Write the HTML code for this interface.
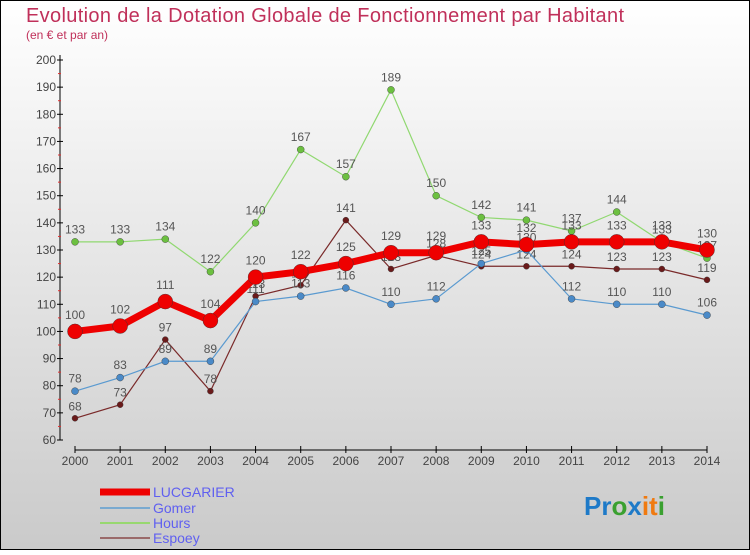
<!DOCTYPE html>
<html><head><meta charset="utf-8"><style>
body{margin:0;}
#c{width:750px;height:550px;position:relative;}
svg text{font-family:"Liberation Sans",sans-serif;}
</style></head><body>
<div id="c">
<svg id="s" width="750" height="550" xmlns="http://www.w3.org/2000/svg">
<defs><linearGradient id="bg" x1="0" y1="0" x2="0" y2="1"><stop offset="0" stop-color="#ffffff"/><stop offset="1" stop-color="#cacaca"/></linearGradient></defs>
<rect x="0.5" y="0.5" width="749" height="549" fill="url(#bg)" stroke="#000"/>
<text x="26" y="22" font-size="20" fill="#c0305a" textLength="598">Evolution de la Dotation Globale de Fonctionnement par Habitant</text>
<text x="26" y="39" font-size="12" fill="#c0305a">(en € et par an)</text>
<g id="axes"></g>
<g id="series"></g>
<g id="legend"></g>
<text x="584" y="515" font-size="26" font-weight="bold"><tspan fill="#1e7ac8">Pr</tspan><tspan fill="#3aa030">o</tspan><tspan fill="#1e7ac8">x</tspan><tspan fill="#f07a10">it</tspan><tspan fill="#3aa030">i</tspan></text>
</svg>
</div>
<script>
const years=[2000,2001,2002,2003,2004,2005,2006,2007,2008,2009,2010,2011,2012,2013,2014];
const lucgarier=[100,102,111,104,120,122,125,129,129,133,132,133,133,133,130];
const gomer=[78,83,89,89,111,113,116,110,112,125,130,112,110,110,106];
const hours=[133,133,134,122,140,167,157,189,150,142,141,137,144,133,127];
const espoey=[68,73,97,78,113,117,141,123,128,124,124,124,123,123,119];
const yTicks=[60,70,80,90,100,110,120,130,140,150,160,170,180,190,200];
const NS="http://www.w3.org/2000/svg";
function xs(i){return 75+i*(707-75)/(years.length-1);}
function ys(v){return 440-(v-60)*(380/140);}
function mk(tag,attrs,parent){const e=document.createElementNS(NS,tag);for(const k in attrs)e.setAttribute(k,attrs[k]);parent.appendChild(e);return e;}
const ax=document.getElementById('axes');
let l=mk('line',{x1:60,y1:55,x2:60,y2:440,stroke:'#000','stroke-width':1},ax);


l=mk('line',{x1:75,y1:450,x2:707,y2:450,stroke:'#000','stroke-width':1},ax);


yTicks.forEach((t,i)=>{
  const y=ys(t);
  mk('line',{x1:57,y1:y,x2:63,y2:y,stroke:'#000'},ax);
  if(i<yTicks.length-1)mk('line',{x1:58,y1:ys(t+5),x2:61,y2:ys(t+5),stroke:'#e03030'},ax);
  const tx=mk('text',{x:56,y:y+4,'font-size':12,'text-anchor':'end',fill:'#444'},ax);
  tx.textContent=t;
  
  
});
years.forEach((yr,i)=>{
  const x=xs(i);
  mk('line',{x1:x,y1:446,x2:x,y2:453,stroke:'#000'},ax);
  const tx=mk('text',{x:x,y:465,'font-size':12,'text-anchor':'middle',fill:'#444'},ax);
  tx.textContent=yr;
  
  
});
const sg=document.getElementById('series');
const defs=[
 {name:'espoey',data:espoey,color:'#7a2a2a',pt:'#6a1a1a',w:1.2,r:3},
 {name:'hours',data:hours,color:'#90d870',pt:'#6cc040',w:1.2,r:3.5},
 {name:'gomer',data:gomer,color:'#5a9ad0',pt:'#4a8ac8',w:1.2,r:3.5},
 {name:'lucgarier',data:lucgarier,color:'#ee0000',pt:'#ee0000',w:7,r:7.5}
];
defs.forEach(d=>{
  const g=mk('g',{},sg);
  
  
  const pts=d.data.map((v,i)=>xs(i)+','+ys(v)).join(' ');
  const pl=mk('polyline',{points:pts,fill:'none',stroke:d.color,'stroke-width':d.w},g);
  
  
  d.data.forEach((v,i)=>{
    const c=mk('circle',{cx:xs(i),cy:ys(v),r:d.r,fill:d.pt,stroke:'#333','stroke-width':0.4},g);
    
    
    const t=mk('text',{x:xs(i),y:ys(v)-(d.r+5),'font-size':12,'text-anchor':'middle',fill:'#555'},g);
    t.textContent=v;
    
    
  });
});
const lg=document.getElementById('legend');
const leg=[['LUCGARIER','#ee0000',7,492],['Gomer','#7aaad0',2,508],['Hours','#98d870',2,523],['Espoey','#9a6a6a',2,538]];
leg.forEach(e=>{
  const g=mk('g',{},lg);
  
  
  mk('line',{x1:100,y1:e[3],x2:150,y2:e[3],stroke:e[1],'stroke-width':e[2]},g);
  const t=mk('text',{x:153,y:e[3]+5,'font-size':14,fill:'#6060f0'},g);
  t.textContent=e[0];
});
</script>
</body></html>
